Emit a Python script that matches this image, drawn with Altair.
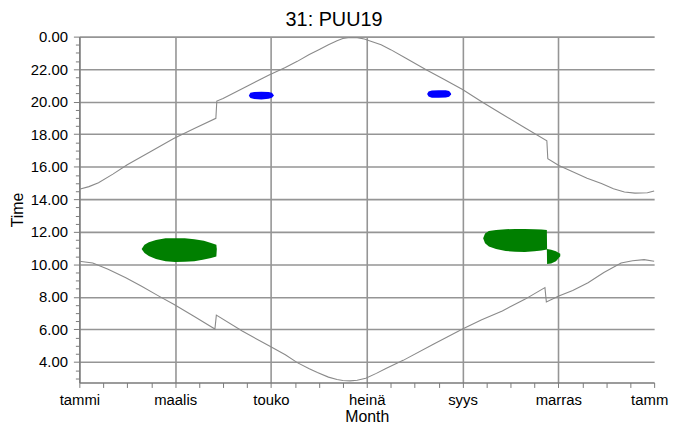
import json
import altair as alt
import pandas as pd

# ---- data ----
month_labels = ["tammi", "maalis", "touko", "heinä", "syys", "marras", "tamm"]

sunset_m = [0.0, 0.2, 0.4, 0.7, 1.0, 1.5, 1.97, 2.4, 2.85, 2.87, 3.0, 3.5, 3.95, 4.3, 4.55, 4.8, 5.0, 5.2,
            5.38, 5.5, 5.65, 5.8, 5.95, 6.1, 6.3, 6.5, 6.8, 7.24, 7.6, 8.0, 8.4, 8.83, 9.3, 9.76, 9.78,
            10.01, 10.3, 10.6, 10.9, 11.15, 11.38, 11.6, 11.86, 12.0]
sunset_v = [14.62, 14.78, 15.02, 15.55, 16.12, 16.95, 17.74, 18.35, 18.98, 20.04, 20.2, 20.95, 21.62, 22.1,
            22.48, 22.9, 23.2, 23.5, 23.74, 23.88, 23.95, 23.94, 23.85, 23.7, 23.5, 23.2, 22.7, 21.97, 21.4,
            20.75, 20.0, 19.23, 18.4, 17.6, 16.49, 16.08, 15.7, 15.3, 14.97, 14.65, 14.45, 14.38, 14.4, 14.51]

sunrise_m = [0.0, 0.28, 0.6, 0.97, 1.3, 1.66, 1.97, 2.4, 2.83, 2.86, 3.4, 3.95, 4.3, 4.55, 4.8, 4.97, 5.2,
             5.38, 5.5, 5.65, 5.8, 5.98, 6.2, 6.4, 6.76, 7.4, 8.0, 8.4, 8.83, 9.3, 9.72, 9.75, 10.01, 10.3,
             10.62, 10.95, 11.31, 11.55, 11.79, 12.0]
sunrise_v = [10.19, 10.09, 9.7, 9.18, 8.65, 8.05, 7.55, 6.8, 6.03, 6.88, 5.9, 5.01, 4.45, 3.96, 3.58, 3.35,
             3.07, 2.92, 2.86, 2.84, 2.88, 3.0, 3.3, 3.6, 4.1, 5.1, 6.03, 6.6, 7.14, 7.85, 8.57, 7.69, 8.05,
             8.4, 8.87, 9.5, 10.09, 10.22, 10.29, 10.19]

# observation clusters: month, lower time, upper time
g1_m = [1.30, 1.36, 1.45, 1.6, 1.8, 2.0, 2.2, 2.4, 2.6, 2.75, 2.86, 2.87]
g1_lo = [10.94, 10.7, 10.52, 10.33, 10.2, 10.15, 10.16, 10.2, 10.3, 10.4, 10.48, 10.94]
g1_hi = [10.94, 11.2, 11.36, 11.5, 11.6, 11.61, 11.6, 11.55, 11.45, 11.32, 11.2, 10.94]

g2_m = [8.43, 8.47, 8.55, 8.7, 8.9, 9.1, 9.3, 9.5, 9.65, 9.76, 9.765, 9.85, 9.95, 10.04]
g2_lo = [11.61, 11.3, 11.1, 10.95, 10.82, 10.78, 10.76, 10.8, 10.85, 10.92, 10.03, 10.05, 10.2, 10.5]
g2_hi = [11.61, 11.9, 12.05, 12.12, 12.16, 12.18, 12.18, 12.16, 12.14, 12.12, 10.94, 10.9, 10.8, 10.65]

b1_m = [3.54, 3.57, 3.65, 3.8, 3.95, 4.02, 4.06]
b1_lo = [20.37, 20.22, 20.16, 20.14, 20.18, 20.24, 20.37]
b1_hi = [20.38, 20.55, 20.6, 20.61, 20.6, 20.55, 20.4]

b2_m = [7.26, 7.29, 7.36, 7.5, 7.65, 7.72, 7.76]
b2_lo = [20.47, 20.32, 20.25, 20.24, 20.26, 20.3, 20.44]
b2_hi = [20.48, 20.63, 20.69, 20.71, 20.7, 20.66, 20.5]

# ---- tables ----
curves = pd.concat([
    pd.DataFrame({"m": sunset_m, "v": sunset_v, "curve": "sunset", "i": range(len(sunset_m))}),
    pd.DataFrame({"m": sunrise_m, "v": sunrise_v, "curve": "sunrise", "i": range(len(sunrise_m))}),
])

x_ticks = [i * 0.5 for i in range(25)]
y_ticks = [3.0 + i * 0.5 for i in range(43)]

x_label_expr = "datum.value % 2 == 0 ? " + json.dumps(month_labels, ensure_ascii=False) + "[datum.value / 2] : ''"
y_label_expr = "datum.value % 2 == 0 ? (datum.value == 24 ? '0.00' : format(datum.value, '.2f')) : ''"

FONT = "Liberation Sans"

x_scale = alt.Scale(domain=[0, 12], nice=False, zero=False)
y_scale = alt.Scale(domain=[2.74, 24], nice=False, zero=False)

x_axis = alt.Axis(
    values=x_ticks, tickCount=100, labelExpr=x_label_expr, title="Month",
    gridOpacity={"condition": {"test": "datum.value % 2 == 0 && datum.value < 12", "value": 1}, "value": 0},
    labelOffset={"condition": {"test": "datum.value == 12", "value": -5}, "value": 0},
    tickSize=5, labelPadding=5, titlePadding=1, labelFontSize=15, titleFontSize=16,
    labelAngle=0, labelOverlap=False, labelFlush=False,
)
y_axis = alt.Axis(
    values=y_ticks, tickCount=100, labelExpr=y_label_expr, title="Time",
    gridOpacity={"condition": {"test": "datum.value % 2 == 0", "value": 1}, "value": 0},
    tickSize={"condition": {"test": "datum.value % 2 == 0", "value": 6}, "value": 4},
    labelPadding=6, titlePadding=5, labelFontSize=15, titleFontSize=16,
    labelOverlap=False, labelFlush=False,
)

line_layer = alt.Chart(curves).mark_line(color="#8a8a8a", strokeWidth=1.1).encode(
    x=alt.X("m:Q", scale=x_scale, axis=x_axis),
    y=alt.Y("v:Q", scale=y_scale, axis=y_axis),
    detail="curve:N",
    order="i:Q",
)


def blob_layer(mm, lo, hi, color):
    df = pd.DataFrame({"m": mm, "lo": lo, "hi": hi})
    return alt.Chart(df).mark_area(color=color, interpolate="linear").encode(
        x=alt.X("m:Q", scale=x_scale),
        y=alt.Y("lo:Q", scale=y_scale),
        y2=alt.Y2("hi:Q"),
    )


layers = [
    line_layer,
    blob_layer(g1_m, g1_lo, g1_hi, "#007f00"),
    blob_layer(g2_m, g2_lo, g2_hi, "#007f00"),
    blob_layer(b1_m, b1_lo, b1_hi, "#0000ff"),
    blob_layer(b2_m, b2_lo, b2_hi, "#0000ff"),
]

chart = alt.layer(*layers).properties(
    width=580, height=349,
    title=alt.TitleParams("31: PUU19", fontSize=20, fontWeight="normal", font=FONT,
                          anchor="middle", frame="group", dx=-33, offset=0, color="black"),
    autosize=alt.AutoSizeParams(type="none"),
    padding={"left": 72, "top": 27, "right": 16, "bottom": 40},
).configure_view(stroke=None).configure_axis(
    labelFont=FONT, titleFont=FONT, labelColor="black", titleColor="black",
    titleFontWeight="normal", gridColor="#959595", gridWidth=1.6,
    domainColor="#7a7a7a", domainWidth=1.3, tickColor="#7a7a7a", tickWidth=1,
)

chart.save("out.html", embed_options={"renderer": "svg", "actions": False})
